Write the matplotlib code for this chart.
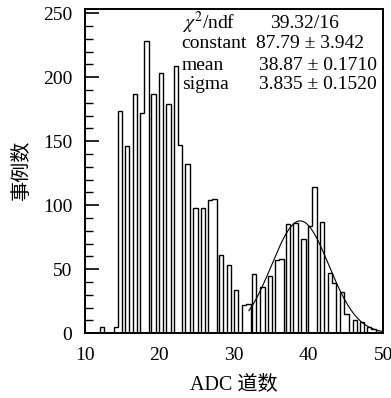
import numpy as np
import matplotlib
matplotlib.use('Agg')
import matplotlib.pyplot as plt
from matplotlib.ticker import MultipleLocator

plt.rcParams['font.family'] = ['Liberation Serif', 'Noto Sans CJK SC']
plt.rcParams['mathtext.fontset'] = 'stix'

# histogram: left edge of each filled bin (ADC channel) and its count
bin_width = 0.58
adc_left = [12.0, 13.9, 14.42, 15.40, 16.43, 17.42, 18.0, 18.92, 19.91, 20.93,
            21.92, 22.50, 23.48, 24.55, 25.54, 26.52, 27.10, 27.99, 29.02, 30.0,
            31.07, 31.65, 32.41, 33.52, 34.51, 35.49, 36.07, 36.97, 37.94, 39.04,
            39.92, 40.50, 41.52, 42.55, 43.13, 44.20, 44.78, 45.95, 46.90, 47.80,
            48.38, 49.0, 49.58]
counts = [5, 5, 174, 146, 187, 172, 228, 187, 203, 179,
          209, 147, 132, 98, 98, 104, 105, 61, 53, 34,
          22, 23, 46, 36, 45, 57, 58, 85, 86, 74,
          84, 114, 87, 47, 39, 32, 15, 10, 9, 5,
          3, 1, 1]

# gaussian fit results
chi2_ndf = '39.32/16'
constant, constant_err = 87.79, 3.942
mean, mean_err = 38.87, 0.1710
sigma, sigma_err = 3.835, 0.1520
fit_lo, fit_hi = 32.0, 50.0

# build a ROOT-like outline: empty bins between the filled ones
edges = [adc_left[0]]
vals = []
for i in range(len(adc_left)):
    left = adc_left[i]
    right = left + bin_width
    if left > edges[-1] + 1e-6:
        vals.append(0)
        edges.append(left)
    else:
        edges[-1] = left
    vals.append(counts[i])
    edges.append(right)

fig = plt.figure(figsize=(3.91, 3.98), dpi=100)
ax = fig.add_axes([0.2166, 0.1626, 0.7637, 0.816])

ax.stairs(vals, edges, baseline=0, color='black', linewidth=1.0)

xf = np.linspace(fit_lo, fit_hi, 300)
yf = constant * np.exp(-0.5 * ((xf - mean) / sigma) ** 2)
ax.plot(xf, yf, color='black', linewidth=0.8)

ax.set_xlim(10, 50)
ax.set_ylim(0, 253.7)
ax.xaxis.set_major_locator(MultipleLocator(10))
ax.yaxis.set_major_locator(MultipleLocator(50))
ax.yaxis.set_minor_locator(MultipleLocator(10))
ax.tick_params(axis='y', which='major', direction='in', length=9.9, width=1.2,
               labelsize=14, pad=9)
ax.tick_params(axis='y', which='minor', direction='in', length=5.5, width=1.0)
ax.tick_params(axis='x', which='both', length=0, labelsize=14, pad=10)
for s in ax.spines.values():
    s.set_linewidth(1.4)

ax.set_xlabel('ADC 道数', fontsize=14.5, labelpad=8)
ax.set_ylabel('事例数', fontsize=14.5, labelpad=8)

# stats box (ROOT style, no frame)
fs = 14
names = ['$\\chi^2$/ndf', 'constant', 'mean', 'sigma']
values = [chi2_ndf,
          '%.2f \u00b1 %.3f' % (constant, constant_err),
          '%.2f \u00b1 %.4f' % (mean, mean_err),
          '%.3f \u00b1 %.4f' % (sigma, sigma_err)]
rows_y = [0.955, 0.893, 0.826, 0.766]
vals_x = [0.621, 0.574, 0.978, 0.978]
vals_ha = ['left', 'left', 'right', 'right']
for name, val, yy, vx, ha in zip(names, values, rows_y, vals_x, vals_ha):
    ax.text(0.325, yy, name, transform=ax.transAxes, fontsize=fs, va='center', ha='left')
    ax.text(vx, yy, val, transform=ax.transAxes, fontsize=fs, va='center', ha=ha)

fig.savefig('out.png', dpi=100)
